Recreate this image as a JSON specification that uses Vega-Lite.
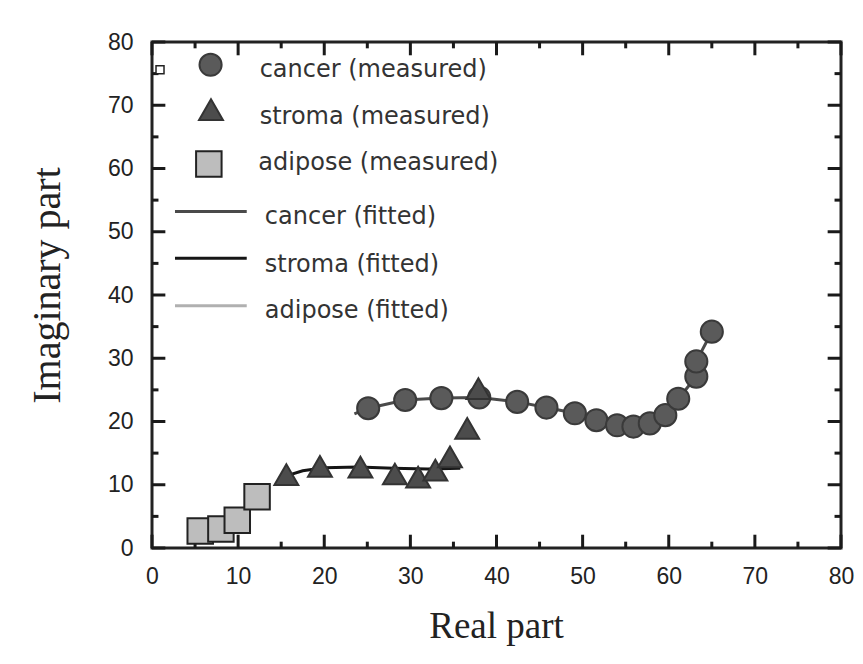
{
  "$schema": "https://vega.github.io/schema/vega-lite/v6.json",
  "width": 689,
  "height": 506,
  "autosize": {"type": "none"},
  "padding": {"left": 152, "top": 42, "right": 22, "bottom": 116},
  "background": "white",
  "config": {
    "view": {"stroke": "#222", "strokeWidth": 3},
    "axis": {
      "grid": false,
      "domain": false,
      "ticks": false,
      "tickSize": 0,
      "labelFont": "Liberation Sans",
      "labelFontSize": 23,
      "labelColor": "#222",
      "labelFlush": false,
      "labelOverlap": false,
      "titleFont": "Liberation Serif",
      "titleFontWeight": "normal",
      "titleColor": "#222"
    }
  },
  "datasets": {
    "measured": [
      {"series": "cancer", "x": 25.1, "y": 22.1},
      {"series": "cancer", "x": 29.4, "y": 23.4},
      {"series": "cancer", "x": 33.6, "y": 23.7},
      {"series": "cancer", "x": 38.0, "y": 23.8},
      {"series": "cancer", "x": 42.4, "y": 23.1},
      {"series": "cancer", "x": 45.8, "y": 22.2},
      {"series": "cancer", "x": 49.1, "y": 21.3},
      {"series": "cancer", "x": 51.6, "y": 20.2},
      {"series": "cancer", "x": 54.0, "y": 19.4},
      {"series": "cancer", "x": 55.9, "y": 19.2},
      {"series": "cancer", "x": 57.8, "y": 19.7},
      {"series": "cancer", "x": 59.6, "y": 21.0},
      {"series": "cancer", "x": 61.1, "y": 23.6},
      {"series": "cancer", "x": 63.2, "y": 27.1},
      {"series": "cancer", "x": 63.2, "y": 29.5},
      {"series": "cancer", "x": 65.0, "y": 34.2},
      {"series": "stroma", "x": 15.6, "y": 11.6},
      {"series": "stroma", "x": 19.5, "y": 12.9},
      {"series": "stroma", "x": 24.2, "y": 12.8},
      {"series": "stroma", "x": 28.2, "y": 11.7},
      {"series": "stroma", "x": 30.9, "y": 11.2},
      {"series": "stroma", "x": 32.9, "y": 12.3},
      {"series": "stroma", "x": 34.6, "y": 14.4},
      {"series": "stroma", "x": 36.6, "y": 18.9},
      {"series": "stroma", "x": 37.9, "y": 25.2},
      {"series": "adipose", "x": 5.6, "y": 2.7},
      {"series": "adipose", "x": 8.0, "y": 3.0},
      {"series": "adipose", "x": 9.9, "y": 4.4},
      {"series": "adipose", "x": 12.2, "y": 8.1}
    ],
    "fitted": [
      {"series": "cancer", "i": 0, "x": 23.5, "y": 21.2},
      {"series": "cancer", "i": 1, "x": 25.1, "y": 22.1},
      {"series": "cancer", "i": 2, "x": 29.4, "y": 23.4},
      {"series": "cancer", "i": 3, "x": 33.6, "y": 23.7},
      {"series": "cancer", "i": 4, "x": 38.0, "y": 23.8},
      {"series": "cancer", "i": 5, "x": 42.4, "y": 23.1},
      {"series": "cancer", "i": 6, "x": 45.8, "y": 22.2},
      {"series": "cancer", "i": 7, "x": 49.1, "y": 21.3},
      {"series": "cancer", "i": 8, "x": 51.6, "y": 20.2},
      {"series": "cancer", "i": 9, "x": 54.0, "y": 19.4},
      {"series": "cancer", "i": 10, "x": 55.9, "y": 19.2},
      {"series": "cancer", "i": 11, "x": 57.8, "y": 19.7},
      {"series": "cancer", "i": 12, "x": 59.6, "y": 21.0},
      {"series": "cancer", "i": 13, "x": 61.1, "y": 23.6},
      {"series": "cancer", "i": 14, "x": 63.2, "y": 27.1},
      {"series": "cancer", "i": 15, "x": 63.2, "y": 29.5},
      {"series": "cancer", "i": 16, "x": 65.0, "y": 34.2},
      {"series": "stroma", "i": 0, "x": 15.6, "y": 11.4},
      {"series": "stroma", "i": 1, "x": 17.5, "y": 12.2},
      {"series": "stroma", "i": 2, "x": 20.0, "y": 12.7},
      {"series": "stroma", "i": 3, "x": 24.0, "y": 12.8},
      {"series": "stroma", "i": 4, "x": 28.0, "y": 12.6},
      {"series": "stroma", "i": 5, "x": 32.0, "y": 12.5},
      {"series": "stroma", "i": 6, "x": 35.8, "y": 12.6},
      {"series": "adipose", "i": 0, "x": 5.0, "y": 2.0},
      {"series": "adipose", "i": 1, "x": 5.6, "y": 2.7},
      {"series": "adipose", "i": 2, "x": 8.0, "y": 3.0},
      {"series": "adipose", "i": 3, "x": 9.9, "y": 4.4},
      {"series": "adipose", "i": 4, "x": 12.2, "y": 8.1},
      {"series": "adipose", "i": 5, "x": 13.2, "y": 9.6}
    ],
    "legendSym": [
      {"series": "cancer", "x": 6.8, "y": 76.4},
      {"series": "stroma", "x": 6.85, "y": 69.3},
      {"series": "adipose", "x": 6.6, "y": 60.7}
    ],
    "legendLine": [
      {"series": "cancer", "x": 2.67, "y": 53.2},
      {"series": "cancer", "x": 11.0, "y": 53.2},
      {"series": "stroma", "x": 2.67, "y": 45.8},
      {"series": "stroma", "x": 11.0, "y": 45.8},
      {"series": "adipose", "x": 2.67, "y": 38.3},
      {"series": "adipose", "x": 11.0, "y": 38.3}
    ],
    "legendText": [
      {"label": "cancer (measured)", "x": 12.5, "y": 74.5},
      {"label": "stroma (measured)", "x": 12.5, "y": 67.1},
      {"label": "adipose (measured)", "x": 12.35, "y": 59.8},
      {"label": "cancer (fitted)", "x": 13.1, "y": 51.3},
      {"label": "stroma (fitted)", "x": 13.1, "y": 43.7},
      {"label": "adipose (fitted)", "x": 13.1, "y": 36.3}
    ],
    "marker": [
      {"x": 0.93, "y": 75.6}
    ],
    "ticks": [
      {"v": 0, "kind": "major"}, {"v": 5, "kind": "minor"},
      {"v": 10, "kind": "major"}, {"v": 15, "kind": "minor"},
      {"v": 20, "kind": "major"}, {"v": 25, "kind": "minor"},
      {"v": 30, "kind": "major"}, {"v": 35, "kind": "minor"},
      {"v": 40, "kind": "major"}, {"v": 45, "kind": "minor"},
      {"v": 50, "kind": "major"}, {"v": 55, "kind": "minor"},
      {"v": 60, "kind": "major"}, {"v": 65, "kind": "minor"},
      {"v": 70, "kind": "major"}, {"v": 75, "kind": "minor"},
      {"v": 80, "kind": "major"}
    ]
  },
  "layer": [
    {
      "data": {"name": "fitted"},
      "mark": {"type": "line", "strokeWidth": 3},
      "encoding": {
        "x": {"field": "x", "type": "quantitative", "scale": {"domain": [0, 80], "nice": false, "zero": false},
          "axis": {"orient": "bottom", "values": [0, 10, 20, 30, 40, 50, 60, 70, 80], "labelPadding": 17,
            "title": "Real part", "titleFontSize": 37, "titleX": 344, "titleY": 89, "titleBaseline": "alphabetic", "titleAnchor": "middle"}},
        "y": {"field": "y", "type": "quantitative", "scale": {"domain": [0, 80], "nice": false, "zero": false},
          "axis": {"orient": "left", "values": [0, 10, 20, 30, 40, 50, 60, 70, 80], "labelPadding": 19,
            "title": "Imaginary part", "titleFontSize": 40, "titleX": -93, "titleY": 243, "titleBaseline": "alphabetic", "titleAlign": "center", "titleAngle": -90}},
        "color": {"field": "series", "type": "nominal", "scale": {"domain": ["cancer", "stroma", "adipose"], "range": ["#4a4a4a", "#151515", "#b0b0b0"]}, "legend": null},
        "order": {"field": "i", "type": "quantitative"}
      }
    },
    {
      "data": {"name": "ticks"},
      "transform": [{"filter": "datum.kind == 'major'"}],
      "layer": [
        {"mark": {"type": "rule", "strokeWidth": 3, "color": "#1a1a1a"},
         "encoding": {"x": {"field": "v", "type": "quantitative"}, "y": {"datum": 0, "type": "quantitative"}, "y2": {"datum": 2.1}}},
        {"mark": {"type": "rule", "strokeWidth": 3, "color": "#1a1a1a"},
         "encoding": {"x": {"field": "v", "type": "quantitative"}, "y": {"datum": 80, "type": "quantitative"}, "y2": {"datum": 77.9}}},
        {"mark": {"type": "rule", "strokeWidth": 3, "color": "#1a1a1a"},
         "encoding": {"y": {"field": "v", "type": "quantitative"}, "x": {"datum": 0, "type": "quantitative"}, "x2": {"datum": 1.55}}},
        {"mark": {"type": "rule", "strokeWidth": 3, "color": "#1a1a1a"},
         "encoding": {"y": {"field": "v", "type": "quantitative"}, "x": {"datum": 80, "type": "quantitative"}, "x2": {"datum": 78.45}}}
      ]
    },
    {
      "data": {"name": "ticks"},
      "transform": [{"filter": "datum.kind == 'minor'"}],
      "layer": [
        {"mark": {"type": "rule", "strokeWidth": 3, "color": "#1a1a1a"},
         "encoding": {"x": {"field": "v", "type": "quantitative"}, "y": {"datum": 0, "type": "quantitative"}, "y2": {"datum": 1.0}}},
        {"mark": {"type": "rule", "strokeWidth": 3, "color": "#1a1a1a"},
         "encoding": {"x": {"field": "v", "type": "quantitative"}, "y": {"datum": 80, "type": "quantitative"}, "y2": {"datum": 79.0}}},
        {"mark": {"type": "rule", "strokeWidth": 3, "color": "#1a1a1a"},
         "encoding": {"y": {"field": "v", "type": "quantitative"}, "x": {"datum": 0, "type": "quantitative"}, "x2": {"datum": 0.75}}},
        {"mark": {"type": "rule", "strokeWidth": 3, "color": "#1a1a1a"},
         "encoding": {"y": {"field": "v", "type": "quantitative"}, "x": {"datum": 80, "type": "quantitative"}, "x2": {"datum": 79.25}}}
      ]
    },
    {
      "data": {"name": "measured"},
      "mark": {"type": "point", "filled": true, "opacity": 1, "strokeWidth": 2},
      "encoding": {
        "x": {"field": "x", "type": "quantitative"},
        "y": {"field": "y", "type": "quantitative"},
        "shape": {"field": "series", "type": "nominal", "scale": {"domain": ["cancer", "stroma", "adipose"], "range": ["circle", "triangle-up", "square"]}, "legend": null},
        "fill": {"field": "series", "type": "nominal", "scale": {"domain": ["cancer", "stroma", "adipose"], "range": ["#5a5a5a", "#4c4c4c", "#bdbdbd"]}, "legend": null},
        "stroke": {"field": "series", "type": "nominal", "scale": {"domain": ["cancer", "stroma", "adipose"], "range": ["#3a3a3a", "#333333", "#222222"]}, "legend": null},
        "size": {"field": "series", "type": "nominal", "scale": {"domain": ["cancer", "stroma", "adipose"], "range": [490, 650, 350]}, "legend": null}
      }
    },
    {
      "data": {"name": "legendSym"},
      "mark": {"type": "point", "filled": true, "opacity": 1, "strokeWidth": 2},
      "encoding": {
        "x": {"field": "x", "type": "quantitative"},
        "y": {"field": "y", "type": "quantitative"},
        "shape": {"field": "series", "type": "nominal", "legend": null},
        "fill": {"field": "series", "type": "nominal", "legend": null},
        "stroke": {"field": "series", "type": "nominal", "legend": null},
        "size": {"field": "series", "type": "nominal", "legend": null}
      }
    },
    {
      "data": {"name": "legendLine"},
      "mark": {"type": "line", "strokeWidth": 3},
      "encoding": {
        "x": {"field": "x", "type": "quantitative"},
        "y": {"field": "y", "type": "quantitative"},
        "color": {"field": "series", "type": "nominal", "legend": null}
      }
    },
    {
      "data": {"name": "legendText"},
      "mark": {"type": "text", "align": "left", "baseline": "alphabetic", "font": "DejaVu Sans", "fontSize": 24, "color": "#333"},
      "encoding": {
        "x": {"field": "x", "type": "quantitative"},
        "y": {"field": "y", "type": "quantitative"},
        "text": {"field": "label", "type": "nominal"}
      }
    },
    {
      "data": {"name": "marker"},
      "mark": {"type": "point", "shape": "square", "size": 64, "filled": true, "fill": "white", "stroke": "#222", "strokeWidth": 1.5, "opacity": 1},
      "encoding": {
        "x": {"field": "x", "type": "quantitative"},
        "y": {"field": "y", "type": "quantitative"}
      }
    }
  ]
}
